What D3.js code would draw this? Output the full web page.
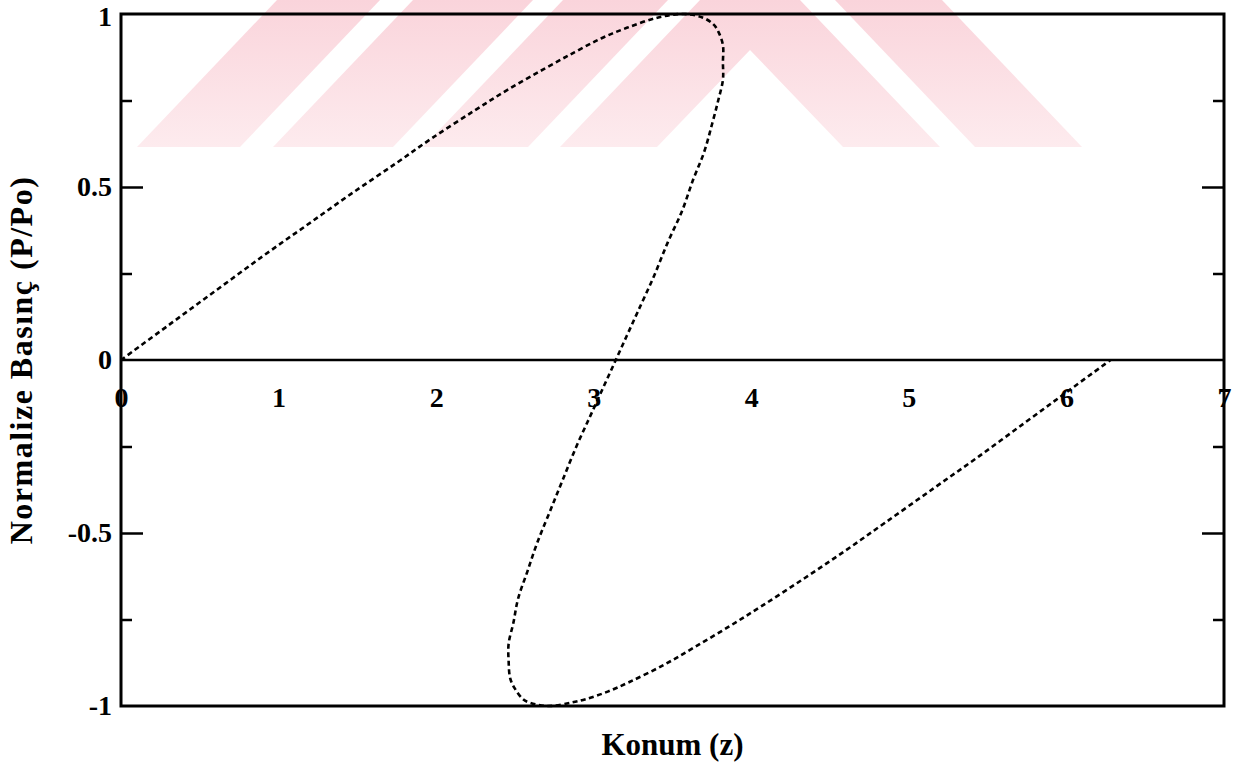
<!DOCTYPE html>
<html>
<head>
<meta charset="utf-8">
<script src="https://cdn.jsdelivr.net/npm/d3@7/dist/d3.min.js"></script>
<style>
  html, body { margin: 0; padding: 0; background: #ffffff; }
  svg { display: block; }
  text { font-family: "Liberation Serif", "Times New Roman", serif; font-weight: bold; fill: #000; }
</style>
</head>
<body>
<svg id="chart" width="1241" height="769"></svg>
<script>
// Normalized pressure profile P/Po along position z (multivalued, traced in order)
const zValues = [0.00, 0.30, 0.60, 0.90, 1.18, 1.46, 1.75, 1.97, 2.24, 2.45, 2.68, 2.88, 3.05,
  3.21, 3.41, 3.57, 3.69, 3.76, 3.79, 3.82, 3.82, 3.82, 3.79, 3.75, 3.70, 3.63, 3.56,
  3.47, 3.38, 3.28, 3.21, 3.14, 3.06, 2.98, 2.89, 2.80, 2.72, 2.64, 2.58, 2.52, 2.49, 2.46,
  2.46, 2.47, 2.50, 2.55, 2.59, 2.71, 2.86, 2.95, 3.08, 3.23, 3.45, 3.64, 3.86, 4.07, 4.34,
  4.60, 4.85, 5.16, 5.44, 5.74, 6.01, 6.28];
const pValues = [0.00, 0.10, 0.20, 0.30, 0.39, 0.48, 0.57, 0.64, 0.72, 0.78, 0.84, 0.89, 0.93,
  0.96, 0.99, 1.00, 0.99, 0.97, 0.95, 0.91, 0.86, 0.81, 0.75, 0.68, 0.60, 0.52, 0.43,
  0.34, 0.24, 0.14, 0.07, 0.00, -0.08, -0.16, -0.25, -0.35, -0.44, -0.53, -0.61, -0.69, -0.76,
  -0.82, -0.87, -0.92, -0.95, -0.98, -0.99, -1.00, -0.99, -0.98, -0.96, -0.93, -0.88, -0.83,
  -0.77, -0.71, -0.63, -0.55, -0.47, -0.37, -0.28, -0.18, -0.09, 0.00];

const xTickLabels = [0, 1, 2, 3, 4, 5, 6, 7];
const yTickLabels = [-1, -0.5, 0, 0.5, 1];
const yMajorTicks = [-0.5, 0.5];
const yMinorTicks = [-0.75, -0.25, 0.25, 0.75];

const xTitle = "Konum (z)";
const yTitle = "Normalize Basınç (P/Po)";

const svg = d3.select("#chart");
const plotLeft = 121, plotRight = 1224, plotTop = 14, plotBottom = 706;

const x = d3.scaleLinear().domain([0, 7]).range([plotLeft, plotRight]);
const y = d3.scaleLinear().domain([-1, 1]).range([plotBottom, plotTop]);

// Faint pink banner shapes across the upper part of the page
const bannerPolys = [
  [[137,147],[240,147],[380,0],[277,0]],
  [[273,147],[393,147],[533,0],[413,0]],
  [[423,147],[528,147],[668,0],[563,0]],
  [[560,147],[657,147],[750,50],[843,147],[940,147],[800,0],[700,0]],
  [[975,147],[1082,147],[942,0],[835,0]]
];
const defs = svg.append("defs");
const grad = defs.append("linearGradient").attr("id", "bannerFill")
  .attr("x1", 0).attr("y1", 0).attr("x2", 0).attr("y2", 1);
grad.append("stop").attr("offset", "0%").attr("stop-color", "#fad4db");
grad.append("stop").attr("offset", "100%").attr("stop-color", "#fdebee");
svg.append("g").selectAll("polygon").data(bannerPolys).join("polygon")
  .attr("points", d => d.map(p => p.join(",")).join(" "))
  .attr("fill", "url(#bannerFill)");

// Frame
svg.append("rect")
  .attr("x", plotLeft).attr("y", plotTop)
  .attr("width", plotRight - plotLeft).attr("height", plotBottom - plotTop)
  .attr("fill", "none").attr("stroke", "#000").attr("stroke-width", 3);

// Zero line
svg.append("line")
  .attr("x1", x(0)).attr("x2", x(7)).attr("y1", y(0)).attr("y2", y(0))
  .attr("stroke", "#000").attr("stroke-width", 2.5);

// Inward tick marks on both vertical edges
function tickMarks(values, len) {
  svg.append("g").attr("transform", `translate(${plotLeft},0)`)
    .call(d3.axisRight(y).tickValues(values).tickSize(len).tickFormat(""))
    .call(g => g.select(".domain").remove())
    .call(g => g.selectAll("line").attr("stroke-width", 2.5));
  svg.append("g").attr("transform", `translate(${plotRight},0)`)
    .call(d3.axisLeft(y).tickValues(values).tickSize(len).tickFormat(""))
    .call(g => g.select(".domain").remove())
    .call(g => g.selectAll("line").attr("stroke-width", 2.5));
}
tickMarks(yMajorTicks, 22);
tickMarks(yMinorTicks, 11);

// Y tick labels (the top one nudged down so it stays on the page)
svg.append("g").attr("transform", `translate(${plotLeft},0)`)
  .call(d3.axisLeft(y).tickValues(yTickLabels).tickSize(0).tickPadding(9).tickFormat(d => String(d)))
  .call(g => g.select(".domain").remove())
  .call(g => g.selectAll("text").style("font-size", "28px")
    .style("font-family", "'Liberation Serif', serif").style("font-weight", "bold")
    .attr("y", d => d === 1 ? 3 : 0));

// X tick labels, hanging under the zero line
svg.append("g").attr("transform", `translate(0,${y(0)})`)
  .call(d3.axisBottom(x).tickValues(xTickLabels).tickSize(0).tickPadding(27).tickFormat(d => String(d)))
  .call(g => g.select(".domain").remove())
  .call(g => g.selectAll("text").style("font-size", "28px")
    .style("font-family", "'Liberation Serif', serif").style("font-weight", "bold"));

// Pressure curve
const pts = zValues.map((z, i) => [z, pValues[i]]);
const line = d3.line().x(d => x(d[0])).y(d => y(d[1])).curve(d3.curveCatmullRom.alpha(0.5));
svg.append("path")
  .attr("d", line(pts))
  .attr("fill", "none").attr("stroke", "#000")
  .attr("stroke-width", 2.6).attr("stroke-dasharray", "5,3.5");

// Axis titles
svg.append("text")
  .attr("x", (plotLeft + plotRight) / 2).attr("y", 755)
  .attr("text-anchor", "middle").style("font-size", "31px")
  .text(xTitle);
svg.append("text")
  .attr("transform", `translate(32,${(plotTop + plotBottom) / 2}) rotate(-90)`)
  .attr("text-anchor", "middle").style("font-size", "32px").style("letter-spacing", "1.5px")
  .text(yTitle);
</script>
</body>
</html>
